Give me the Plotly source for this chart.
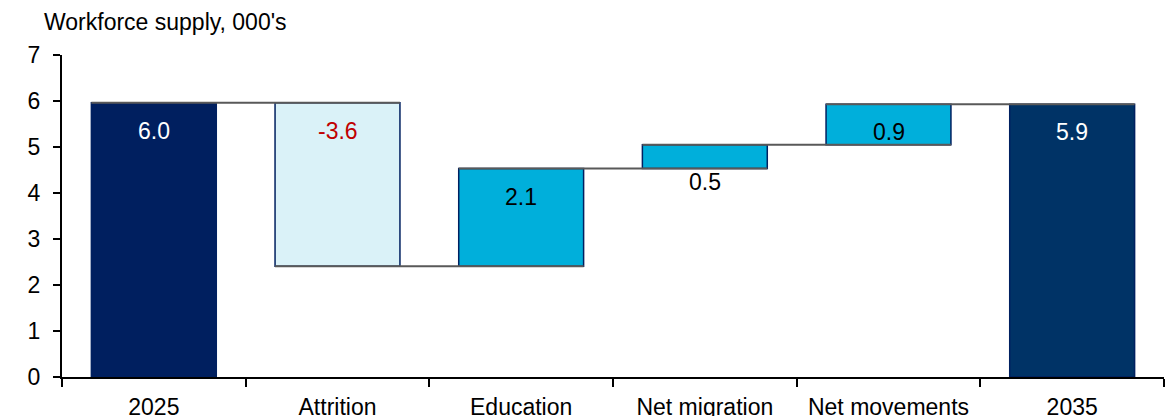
import plotly.graph_objects as go

categories = ["2025", "Attrition", "Education", "Net migration", "Net movements", "2035"]
values = [5.96, -3.55, 2.12, 0.52, 0.88, 5.93]
measures = ["total", "relative", "relative", "relative", "relative", "total"]
value_labels = ["6.0", "-3.6", "2.1", "0.5", "0.9", "5.9"]
fill_colors = ["#001F5F", "#DAF2F8", "#00AFDB", "#00AFDB", "#00AFDB", "#003366"]
label_colors = ["#FFFFFF", "#C00000", "#000000", "#000000", "#000000", "#FFFFFF"]
label_inside = [True, True, True, False, True, True]

FONT = "Liberation Sans, Arial, sans-serif"
FS = 23
BAR_W = 0.68

bases, heights, levels = [], [], []
level = 0.0
for v, m in zip(values, measures):
    if m == "total":
        bases.append(0.0)
        heights.append(v)
        level = v
    else:
        bases.append(min(level, level + v))
        heights.append(abs(v))
        level = level + v
    levels.append(level)

fig = go.Figure()
fig.add_trace(go.Bar(
    x=categories, y=heights, base=bases, width=BAR_W,
    marker=dict(color=fill_colors, line=dict(color="#002060", width=1.5)),
    hoverinfo="skip", showlegend=False,
))

shapes = []
for i in range(len(categories) - 1):
    shapes.append(dict(
        type="line", xref="x", yref="y",
        x0=i - BAR_W / 2, x1=i + 1 + BAR_W / 2, y0=levels[i], y1=levels[i],
        line=dict(color="#595959", width=2), layer="above",
    ))

annotations = []
for i, c in enumerate(categories):
    top = bases[i] + heights[i]
    if label_inside[i]:
        annotations.append(dict(x=i, y=top, xref="x", yref="y", text=value_labels[i],
                                showarrow=False, yanchor="middle", yshift=-28,
                                font=dict(family=FONT, size=FS, color=label_colors[i])))
    else:
        annotations.append(dict(x=i, y=bases[i], xref="x", yref="y", text=value_labels[i],
                                showarrow=False, yanchor="middle", yshift=-13,
                                font=dict(family=FONT, size=FS, color=label_colors[i])))

annotations.append(dict(x=0, y=1, xref="paper", yref="paper", xanchor="left", yanchor="middle",
                        xshift=-20, yshift=33, text="Workforce supply, 000's", showarrow=False,
                        font=dict(family=FONT, size=FS, color="#000000")))

fig.update_layout(
    width=1176, height=416,
    margin=dict(l=62, r=12, t=55, b=39),
    paper_bgcolor="white", plot_bgcolor="white",
    font=dict(family=FONT, size=FS, color="#000000"),
    shapes=shapes, annotations=annotations,
    xaxis=dict(type="category", tickson="boundaries", ticks="outside", ticklen=8,
               tickwidth=2, tickcolor="#000000", showline=True, linecolor="#000000",
               linewidth=2, showgrid=False, tickfont=dict(family=FONT, size=FS),
               ticklabelstandoff=8, range=[-0.5, 5.5], automargin=False),
    yaxis=dict(range=[0, 7], dtick=1, ticks="outside", ticklen=7, tickwidth=2,
               tickcolor="#000000", showline=True, linecolor="#000000", linewidth=2,
               showgrid=False, zeroline=False, tickfont=dict(family=FONT, size=FS),
               ticklabelstandoff=8, automargin=False),
)

fig.write_html("out.html")
